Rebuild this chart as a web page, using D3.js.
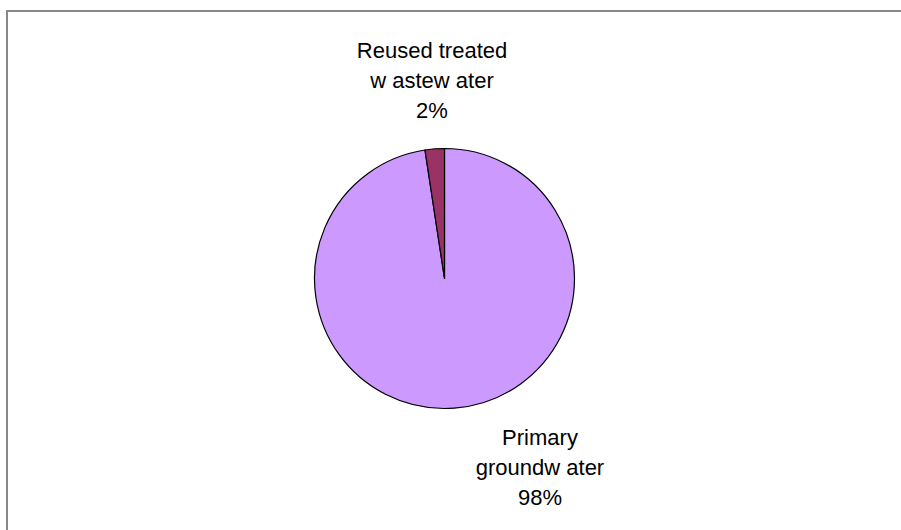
<!DOCTYPE html>
<html><head><meta charset="utf-8">
<script src="https://cdn.jsdelivr.net/npm/d3@7"></script>
<style>html,body{margin:0;padding:0;background:#fff;}svg{display:block;}</style>
</head><body>
<svg id="chart" width="901" height="530"></svg>
<script>
const categories = ["Primary groundw ater", "Reused treated w astew ater"];
const labelLines = [["Primary", "groundw ater"], ["Reused treated", "w astew ater"]];
const values = [97.6, 2.4];
const colors = ["#CC99FF", "#993366"];

const svg = d3.select("#chart");
const W = 901, H = 530;

// outer frame
svg.append("path")
  .attr("d", `M7,${H + 5} V11 H${W + 5}`)
  .attr("fill", "none").attr("stroke", "#888").attr("stroke-width", 2);

const cx = 444.5, cy = 278.5, r = 130;
const total = d3.sum(values);
const pie = d3.pie().sort(null).value(d => d.v);
const arcs = pie(values.map((v, i) => ({v, i})));
const arc = d3.arc().innerRadius(0).outerRadius(r);

const g = svg.append("g").attr("transform", `translate(${cx},${cy})`);
g.selectAll("path.slice").data(arcs).enter().append("path")
  .attr("class", "slice")
  .attr("d", arc)
  .attr("fill", d => colors[d.data.i])
  .attr("stroke", "#000").attr("stroke-width", 1.2).attr("stroke-linejoin", "round");

// labels (Excel-style outside placement)
const labelPos = [
  {x: 540 - cx, y: 445 - cy},   // first-line baseline for Primary
  {x: 432 - cx, y: 58 - cy}     // first-line baseline for Reused
];
const lh = 30;
arcs.forEach((d, k) => {
  const i = d.data.i;
  const pct = Math.round(d.data.v / total * 100) + "%";
  const lines = labelLines[i].concat([pct]);
  const t = g.append("text")
    .attr("text-anchor", "middle")
    .attr("font-family", "'Liberation Sans', Arial, sans-serif")
    .attr("font-size", 22)
    .attr("fill", "#000");
  lines.forEach((ln, j) => {
    t.append("tspan").attr("x", labelPos[i].x).attr("y", labelPos[i].y + j * lh).text(ln);
  });
});
</script>
</body></html>
